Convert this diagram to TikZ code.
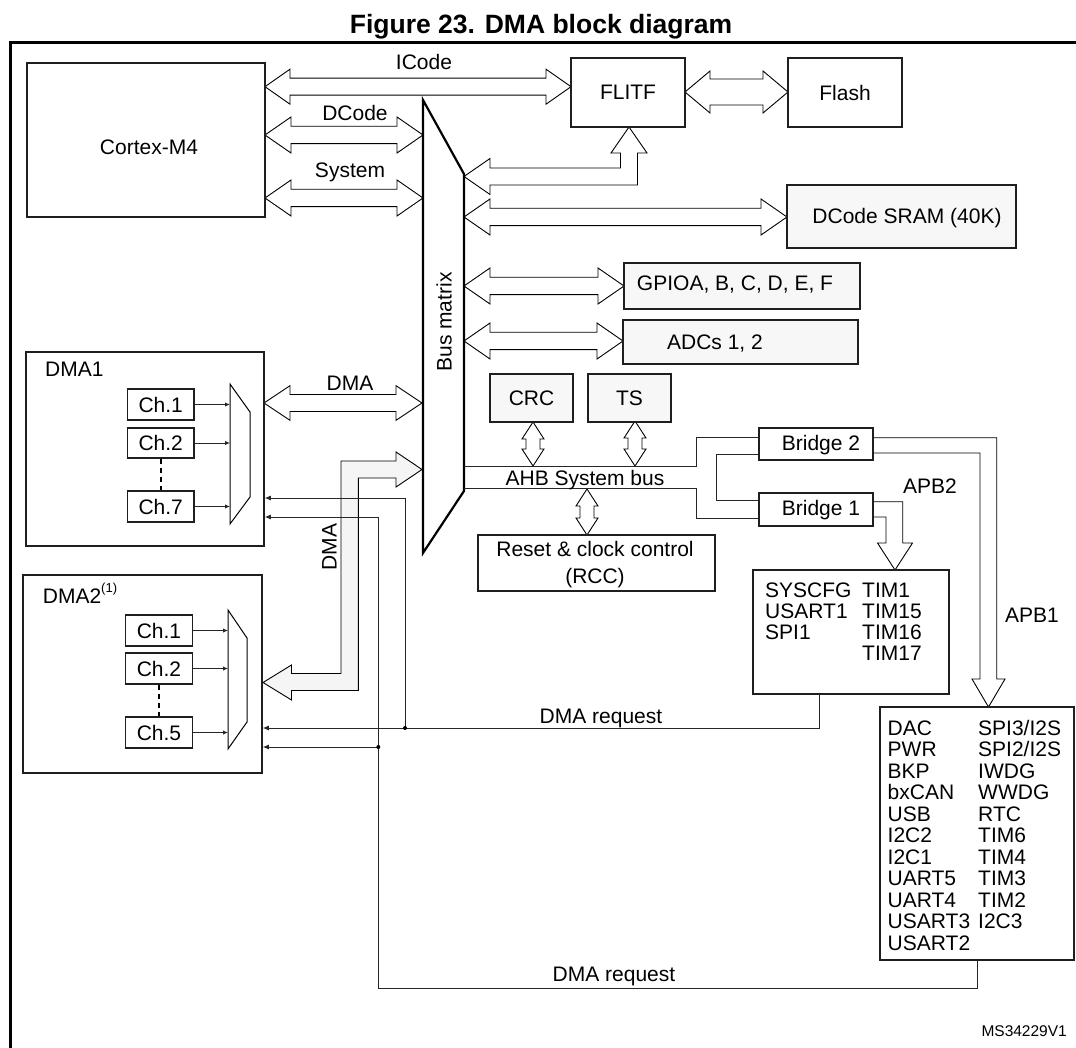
\documentclass[tikz,border=0pt]{standalone}
\usepackage{fontspec}
\setmainfont{Liberation Sans}
\usetikzlibrary{arrows.meta}
\newcommand\lblfont{\fontsize{21}{25}\selectfont}
% horizontal double block arrow: x1, x2, yc, shaft half, head half, head length
\newcommand\blkH[6]{%
\filldraw[blk] (#1,#3) -- (#1+#6,#3-#5) -- (#1+#6,#3-#4) -- (#2-#6,#3-#4) -- (#2-#6,#3-#5) -- (#2,#3) -- (#2-#6,#3+#5) -- (#2-#6,#3+#4) -- (#1+#6,#3+#4) -- (#1+#6,#3+#5) -- cycle;}
% vertical double block arrow: y1, y2, xc, shaft half, head half, head length
\newcommand\blkV[6]{%
\filldraw[blk] (#3,#1) -- (#3+#5,#1+#6) -- (#3+#4,#1+#6) -- (#3+#4,#2-#6) -- (#3+#5,#2-#6) -- (#3,#2) -- (#3-#5,#2-#6) -- (#3-#4,#2-#6) -- (#3-#4,#1+#6) -- (#3-#5,#1+#6) -- cycle;}
\begin{document}
\begin{tikzpicture}[x=1pt,y=-1pt,
 box/.style={draw=black!88, line width=1.8pt, fill=white, inner sep=0pt, font=\lblfont},
 gbox/.style={box, fill=black!3},
 blk/.style={draw=black, line width=0.9pt, fill=white, line join=miter},
 lbl/.style={font=\lblfont, inner sep=0pt, anchor=base},
 wire/.style={line width=0.9pt, draw=black!85},
 req/.style={wire, -{Latex[length=6pt,width=5pt]}},
 chreq/.style={wire, -{Latex[length=5pt,width=4.5pt]}},
 jdot/.style={circle, fill=black, inner sep=0pt, minimum size=4pt}]
\clip (0,0) rectangle (1076,1048);
\fill[white] (0,0) rectangle (1076,1048);
% frame and title
\draw[line width=3pt] (10,1060) -- (10,43) -- (1090,43);
\node[font=\bfseries\fontsize{26.5}{30}\selectfont, inner sep=0pt, anchor=base] (title) at (541,33.3) {Figure 23. DMA block diagram};

% block arrows
\blkH{265}{571}{86.7}{8.5}{17.5}{25}
\blkH{265}{423}{135}{8.7}{18}{26}
\blkH{265}{423}{198}{8.7}{18}{26}
\blkH{685}{788}{92}{13}{21}{25}
\blkH{464}{787}{217}{8.7}{18}{26}
\blkH{464}{624}{286}{8.7}{18}{26}
\blkH{464}{623}{341}{8.7}{18}{26}
\blkH{264}{422}{403}{8.5}{17.3}{26}
\blkV{422}{466}{533}{7}{11}{17}
\blkV{421}{466}{635}{7}{11}{17}
\blkV{489}{535}{587}{7}{11}{17}
% bent arrow bus matrix <-> FLITF
\filldraw[blk] (464,176.5) -- (490,158.5) -- (490,168) -- (620.5,168) -- (620.5,153) -- (611,153) -- (629,127) -- (647,153) -- (637.5,153) -- (637.5,185) -- (490,185) -- (490,194.5) -- cycle;
% bent DMA arrow bus matrix <-> DMA2
\filldraw[blk, fill=black!4] (422,469.5) -- (396,452) -- (396,461) -- (341,461) -- (341,673.5) -- (291.5,673.5) -- (291.5,665) -- (263,682.5) -- (291.5,700) -- (291.5,690.5) -- (358.3,690.5) -- (358.3,478) -- (396,478) -- (396,487) -- cycle;
% APB2 and APB1 arrows
\filldraw[blk] (873,501.7) -- (902.7,501.7) -- (902.7,543) -- (912.5,543) -- (895,570) -- (877.5,543) -- (886,543) -- (886,517) -- (873,517);
\filldraw[blk] (873,437.7) -- (996.7,437.7) -- (996.7,679) -- (1005,679) -- (988.5,707) -- (972,679) -- (980,679) -- (980,453) -- (873,453);

% bus matrix
\filldraw[line width=2.2pt, fill=white, line join=miter] (423,100) -- (464,174) -- (464,491) -- (423,553) -- cycle;

% boxes
\node[box, minimum width=238pt, minimum height=154pt] (cortex) at (146,140) {};
\node[box, minimum width=114pt, minimum height=69pt] (flitf) at (628,92.5) {FLITF};
\node[box, minimum width=114pt, minimum height=69pt] (flash) at (845,92.5) {Flash};
\node[gbox, minimum width=229pt, minimum height=63pt] (sram) at (901.5,216.5) {};
\node[gbox, minimum width=236pt, minimum height=46pt] (gpio) at (742,286) {};
\node[gbox, minimum width=235pt, minimum height=44pt] (adc) at (740.5,342) {};
\node[gbox, minimum width=83pt, minimum height=48pt] (crc) at (531.5,398) {CRC};
\node[gbox, minimum width=83pt, minimum height=48pt] (ts) at (629.5,398) {TS};
\node[box, minimum width=114pt, minimum height=32pt] (br2) at (816,444) {};
\node[box, minimum width=114pt, minimum height=33pt] (br1) at (816,509.5) {};
\node[box, minimum width=237pt, minimum height=56pt] (rcc) at (596.5,563) {};
\node[box, minimum width=196pt, minimum height=124pt] (apb2box) at (851,632) {};
\node[box, minimum width=194pt, minimum height=253pt] (apb1box) at (977,833.5) {};
\node[box, line width=1.6pt, minimum width=238pt, minimum height=194pt] (dma1) at (145,449) {};
\node[box, line width=1.6pt, minimum width=239pt, minimum height=198pt] (dma2) at (142.5,674) {};

% channel boxes
\node[box, minimum width=66.5pt, minimum height=31pt] (c11) at (160.75,404.5) {Ch.1};
\node[box, minimum width=66.5pt, minimum height=30pt] (c12) at (160.75,443) {Ch.2};
\node[box, minimum width=66.5pt, minimum height=31pt] (c17) at (160.75,506.5) {Ch.7};
\node[box, minimum width=67pt, minimum height=31pt] (c21) at (159,630.5) {Ch.1};
\node[box, minimum width=67pt, minimum height=31pt] (c22) at (159,668.5) {Ch.2};
\node[box, minimum width=67pt, minimum height=31pt] (c25) at (159,732.5) {Ch.5};
\draw[line width=1.5pt, dash pattern=on 5pt off 4pt] (c12.south) -- (c17.north);
\draw[line width=1.5pt, dash pattern=on 5pt off 4pt] (c22.south) -- (c25.north);

% multiplexers
\draw[line width=1pt, fill=white] (230,384) -- (250,412) -- (250,497) -- (230,524) -- cycle;
\draw[line width=1pt, fill=white] (228,610) -- (247,638) -- (247,722) -- (228,749) -- cycle;
\coordinate (m1) at (230,450);
\coordinate (m2) at (228,680);
\foreach \c in {c11,c12,c17} \draw[chreq] (\c.east) -- (\c.east -| m1);
\foreach \c in {c21,c22,c25} \draw[chreq] (\c.east) -- (\c.east -| m2);

% AHB system bus wires
\draw[wire] (464,466) -- (696,466) -- (696,437.7) -- (759,437.7);
\draw[wire] (464,488.7) -- (696,488.7) -- (696,518) -- (759,518);
\draw[wire] (759,454) -- (716.7,454) -- (716.7,500.7) -- (759,500.7);

% DMA request wires
\coordinate (r1a) at (819,694);
\coordinate (r1b) at (819,728);
\coordinate (j1) at (405,728);
\coordinate (j1t) at (405,498);
\draw[req] (r1a) -- (r1b) -- (r1b -| dma2.east);
\draw[req] (j1) -- (j1t) -- (j1t -| dma1.east);
\node[jdot] (j1dot) at (j1) {};
\coordinate (r2b) at (378.3,988);
\coordinate (j2) at (378.3,747);
\coordinate (r2t) at (378.3,517);
\draw[req] (apb1box.south) -- (apb1box.south |- r2b) -- (r2b) -- (r2t) -- (r2t -| dma1.east);
\draw[req] (j2) -- (j2 -| dma2.east);
\node[jdot] (j2dot) at (j2) {};

% labels
\node[lbl] (lcortex) at (149,154.5) {Cortex-M4};
\node[lbl] (licode) at (424,70) {ICode};
\node[lbl] (ldcode) at (355,121) {DCode};
\node[lbl] (lsystem) at (350,178) {System};
\node[lbl] (lsram) at (907,223.5) {DCode SRAM (40K)};
\node[lbl] (lgpio) at (735,291) {GPIOA, B, C, D, E, F};
\node[lbl] (ladc) at (715,350) {ADCs 1, 2};
\node[lbl, rotate=90, anchor=center] (lbus) at (444,322) {Bus matrix};
\node[lbl] (ldma) at (350,390) {DMA};
\node[lbl, rotate=90, anchor=center] (ldmav) at (329.5,547) {DMA};
\node[lbl] (lahb) at (585,485) {AHB System bus};
\node[lbl] (lb2) at (821,450) {Bridge 2};
\node[lbl] (lb1) at (821,515) {Bridge 1};
\node[lbl] (lrcc1) at (595,556.7) {Reset \& clock control};
\node[lbl] (lrcc2) at (595,583) {(RCC)};
\node[lbl, anchor=base west] (lapb2) at (903,493.3) {APB2};
\node[lbl, anchor=base west] (lapb1) at (1005,622.7) {APB1};
\node[lbl] (lreq1) at (601,723) {DMA request};
\node[lbl] (lreq2) at (614,981) {DMA request};
\node[font=\fontsize{15.5}{18}\selectfont, inner sep=0pt, anchor=base east] (lms) at (1067,1036) {MS34229V1};
\node[lbl, anchor=base west] (ldma1) at (45,376.7) {DMA1};
\node[lbl, anchor=base west] (ldma2) at (42.7,603) {DMA2\raisebox{11pt}{\fontsize{13}{15}\selectfont(1)}};

% peripheral lists
\node[inner sep=0pt, anchor=base west] (lapb2list) at (765,597) {\fontsize{21}{21.3}\selectfont
\begin{tabular}[t]{@{}p{97pt}@{}l@{}}
SYSCFG & TIM1\\
USART1 & TIM15\\
SPI1 & TIM16\\
 & TIM17
\end{tabular}};
\node[inner sep=0pt, anchor=base west] (lapb1list) at (887.5,735) {\fontsize{21}{21.47}\selectfont
\begin{tabular}[t]{@{}p{90.5pt}@{}l@{}}
DAC & SPI3/I2S\\
PWR & SPI2/I2S\\
BKP & IWDG\\
bxCAN & WWDG\\
USB & RTC\\
I2C2 & TIM6\\
I2C1 & TIM4\\
UART5 & TIM3\\
UART4 & TIM2\\
USART3 & I2C3\\
USART2 &
\end{tabular}};
\end{tikzpicture}
\end{document}
